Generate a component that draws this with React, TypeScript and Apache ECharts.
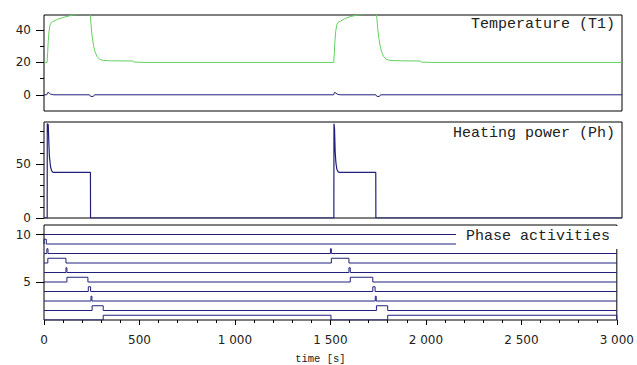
import React, { useEffect, useRef } from "react";
import * as echarts from "echarts";

// ---- Data ----
// Temperature T1 (green) [time s, °C]
const tempSeries: number[][] = [
  [0, 20], [16, 20], [19, 26], [22, 33], [26, 39], [31, 43], [38, 44.6], [47, 45.3],
  [70, 46.6], [100, 47.8], [130, 48.7], [150, 49.3], [180, 50], [238, 50.8],
  [241, 48], [245, 42], [250, 36], [257, 30.5], [265, 26.5], [275, 23.8], [290, 21.8],
  [310, 21.2], [350, 21], [460, 20.9], [468, 20.2], [520, 20],
  [1504, 20], [1507, 26], [1510, 33], [1514, 39], [1519, 43], [1527, 44.8], [1540, 45.6],
  [1560, 47], [1590, 48.3], [1620, 49.1], [1640, 49.6], [1700, 50.4], [1725, 50.8],
  [1728, 47], [1732, 41], [1738, 35], [1745, 30], [1753, 26.3], [1763, 23.6], [1778, 21.8],
  [1800, 21.2], [1850, 21], [1952, 20.9], [1960, 20.2], [2010, 20], [3000, 20],
];
// Second trace of the temperature panel (blue)
const tempDiffSeries: number[][] = [
  [0, 0], [14, 0], [20, 1.5], [27, 1.1], [34, 0.4], [50, 0], [236, 0], [242, -1],
  [256, -1], [262, 0], [1503, 0], [1508, 1.5], [1515, 1.1], [1522, 0.4], [1536, 0],
  [1722, 0], [1728, -1], [1741, -1], [1747, 0], [3000, 0],
];
// Heating power Ph
const powerSeries: number[][] = [
  [0, 0], [16.5, 0], [17, 87], [22, 86], [25, 70], [28, 57], [34, 47], [40, 43.5],
  [47, 42], [241, 42], [241.5, 0], [1504.5, 0], [1505, 87], [1508, 82], [1511, 62],
  [1515, 51], [1520, 45], [1527, 42.5], [1535, 42], [1722, 42], [1722.5, 0], [3000, 0],
];
// Phase activities: active intervals [start, end] for phases with baselines 1..10
const phase1: number[][] = [[310, 1503], [1800, 3000]];
const phase2: number[][] = [[252, 310], [1741, 1800]];
const phase3: number[][] = [[246, 251], [1735, 1740]];
const phase4: number[][] = [[232, 244], [1722, 1734]];
const phase5: number[][] = [[120, 230], [1604, 1722]];
const phase6: number[][] = [[115, 120], [1597, 1604]];
const phase7: number[][] = [[20, 115], [1505, 1597]];
const phase8: number[][] = [[15, 21], [1500, 1505]];
const phase9: number[][] = [[0, 12]];
const phase10: number[][] = [];
const phaseList = [phase1, phase2, phase3, phase4, phase5, phase6, phase7, phase8, phase9, phase10];
const phaseHigh = 0.5;
const tEnd = 3000;

// tick labels
const xTicks = [0, 500, 1000, 1500, 2000, 2500, 3000];
const tempLabels = [0, 20, 40];
const tempMinor = [10, 30];
const powerLabels = [0, 50];
const powerMinor = [10, 20, 30, 40, 60, 70, 80];
const phaseLabels = [5, 10];

function phaseSteps(base: number, intervals: number[][]): number[][] {
  const pts: number[][] = [[0, base]];
  intervals.forEach(([a, b]) => {
    pts.push([a, base], [a, base + phaseHigh], [b, base + phaseHigh], [b, base]);
  });
  pts.push([tEnd, base]);
  return pts;
}

const NAVY = "#20207c";
const GREEN = "#62d062";
const labelFont = { fontFamily: "DejaVu Sans", fontSize: 12, color: "#222" };

function yAxesFor(grid: number, min: number, max: number, major: number[], minor: number[]) {
  return [
    {
      type: "value", gridIndex: grid, min, max, position: "left",
      axisLine: { show: false }, splitLine: { show: false },
      axisTick: { show: true, customValues: major, length: 8, lineStyle: { color: "#000" } },
      axisLabel: { show: true, customValues: major, margin: 13, ...labelFont },
    },
    {
      type: "value", gridIndex: grid, min, max, position: "left",
      axisLine: { show: false }, splitLine: { show: false },
      axisTick: { show: minor.length > 0, customValues: minor, length: 4, lineStyle: { color: "#000" } },
      axisLabel: { show: false },
    },
  ];
}

export default function App() {
  const ref = useRef<HTMLDivElement>(null);
  useEffect(() => {
    if (!ref.current) return;
    const chart = echarts.init(ref.current, undefined, { renderer: "svg" });
    const gridBase = { show: true, borderColor: "#000", borderWidth: 1, left: 44, width: 578, backgroundColor: "#fff" };
    const xHidden = (g: number) => ({
      type: "value", gridIndex: g, min: 0, max: tEnd,
      axisLine: { show: false }, axisTick: { show: false }, axisLabel: { show: false }, splitLine: { show: false },
    });
    const phaseSeries = phaseList.map((iv, i) => ({
      type: "line", xAxisIndex: 2, yAxisIndex: 4, data: phaseSteps(i + 1, iv),
      showSymbol: false, symbol: "none", lineStyle: { color: NAVY, width: 1 }, z: 3,
    }));
    chart.setOption({
      animation: false,
      backgroundColor: "#fff",
      grid: [
        { ...gridBase, top: 15, height: 96 },
        { ...gridBase, top: 122, height: 96 },
        { ...gridBase, top: 225, height: 95 },
      ],
      xAxis: [
        xHidden(0),
        xHidden(1),
        {
          type: "value", gridIndex: 2, min: 0, max: tEnd, interval: 500,
          axisLine: { show: false }, splitLine: { show: false },
          axisTick: { show: true, length: 5, lineStyle: { color: "#000" } },
          minorTick: { show: true, splitNumber: 5, length: 3, lineStyle: { color: "#000" } },
          axisLabel: {
            show: true, customValues: xTicks, margin: 14, ...labelFont,
            formatter: (v: number) => (v >= 1000 ? `${Math.floor(v / 1000)} ${String(v % 1000).padStart(3, "0")}` : String(v)),
          },
          name: "time [s]", nameLocation: "middle", nameGap: 33,
          nameTextStyle: { fontFamily: "Liberation Mono", fontSize: 10.5, color: "#222", padding: [0, 20, 0, 0] },
        },
      ],
      yAxis: [
        ...yAxesFor(0, -10, 49.3, tempLabels, tempMinor),
        ...yAxesFor(1, 0, 88.5, powerLabels, powerMinor),
        ...yAxesFor(2, 1, 11, phaseLabels, []),
      ],
      series: [
        { type: "line", xAxisIndex: 0, yAxisIndex: 0, data: tempSeries, showSymbol: false, symbol: "none", lineStyle: { color: GREEN, width: 1 } },
        { type: "line", xAxisIndex: 0, yAxisIndex: 0, data: tempDiffSeries, showSymbol: false, symbol: "none", lineStyle: { color: NAVY, width: 1 } },
        { type: "line", xAxisIndex: 1, yAxisIndex: 2, data: powerSeries, showSymbol: false, symbol: "none", lineStyle: { color: NAVY, width: 1.2 } },
        ...phaseSeries,
      ],
      graphic: [
        { type: "text", right: 637 - 615, top: 17, z: 100, style: { text: "Temperature (T1)", fontFamily: "Liberation Mono", fontSize: 15, fill: "#222" } },
        { type: "text", right: 637 - 615, top: 126, z: 100, style: { text: "Heating power (Ph)", fontFamily: "Liberation Mono", fontSize: 15, fill: "#222" } },
        { type: "rect", left: 456, top: 226, z: 99, shape: { width: 165, height: 23 }, style: { fill: "#fff" } },
        { type: "text", right: 637 - 610, top: 229, z: 100, style: { text: "Phase activities", fontFamily: "Liberation Mono", fontSize: 15, fill: "#222" } },
      ],
    });
    return () => chart.dispose();
  }, []);
  return <div ref={ref} style={{ position: "fixed", left: 0, top: 0, width: 637, height: 365 }} />;
}
